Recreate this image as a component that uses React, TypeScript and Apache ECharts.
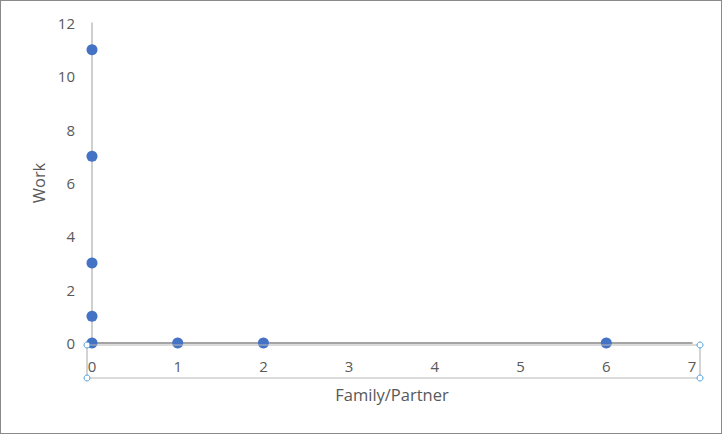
import React, { useEffect, useRef } from "react";
import * as echarts from "echarts";

const xValues = [0, 0, 0, 0, 0, 1, 2, 6];
const yValues = [11, 7, 3, 1, 0, 0, 0, 0];
const xAxisName = "Family/Partner";
const yAxisName = "Work";

export default function App() {
  const ref = useRef<HTMLDivElement>(null);
  useEffect(() => {
    document.body.style.margin = "0";
    const chart = echarts.init(ref.current!, null, { renderer: "svg" });
    const font = "'Open Sans', 'Liberation Sans', sans-serif";
    chart.setOption({
      animation: false,
      backgroundColor: "#ffffff",
      grid: { left: 91, right: 29, top: 22, bottom: 90 },
      xAxis: {
        type: "value",
        min: 0,
        max: 7,
        interval: 1,
        name: xAxisName,
        nameLocation: "middle",
        nameGap: 43,
        nameTextStyle: { color: "#595959", fontSize: 16.5, fontFamily: font },
        axisLine: { show: true, onZero: false, lineStyle: { color: "#868686", width: 1.5 } },
        axisTick: { show: false },
        splitLine: { show: false },
        axisLabel: { color: "#595959", fontSize: 15, fontFamily: font, margin: 15 },
      },
      yAxis: {
        type: "value",
        min: 0,
        max: 12,
        interval: 2,
        name: yAxisName,
        nameLocation: "middle",
        nameGap: 45,
        nameRotate: 90,
        nameTextStyle: { color: "#595959", fontSize: 16.5, fontFamily: font },
        axisLine: { show: true, onZero: false, lineStyle: { color: "#bfbfbf", width: 1.5 } },
        axisTick: { show: false },
        splitLine: { show: false },
        axisLabel: { color: "#595959", fontSize: 15, fontFamily: font, margin: 17 },
      },
      series: [
        {
          type: "scatter",
          data: xValues.map((x, i) => [x, yValues[i]]),
          symbol: "circle",
          symbolSize: 11,
          itemStyle: { color: "#4472c4", opacity: 1 },
          z: 3,
        },
      ],
      graphic: [
        {
          type: "polyline",
          shape: { points: [[86, 344], [86, 377], [699, 377], [699, 344], [86, 344]] },
          style: { stroke: "#b8b8b8", lineWidth: 1.2, fill: "none" },
          z: 5,
        },
        ...[
          [86, 344],
          [86, 377],
          [699, 344],
          [699, 377],
        ].map(([cx, cy]) => ({
          type: "circle",
          shape: { cx, cy, r: 3 },
          style: { fill: "#ffffff", stroke: "#4a9fe0", lineWidth: 1 },
          z: 10,
        })),
      ],
    });
    return () => chart.dispose();
  }, []);
  return (
    <div
      style={{
        position: "absolute",
        left: 0,
        top: 0,
        width: 720,
        height: 432,
        border: "1px solid #8a8a8a",
        background: "#fff",
      }}
    >
      <div ref={ref} style={{ width: 720, height: 432 }} />
    </div>
  );
}
